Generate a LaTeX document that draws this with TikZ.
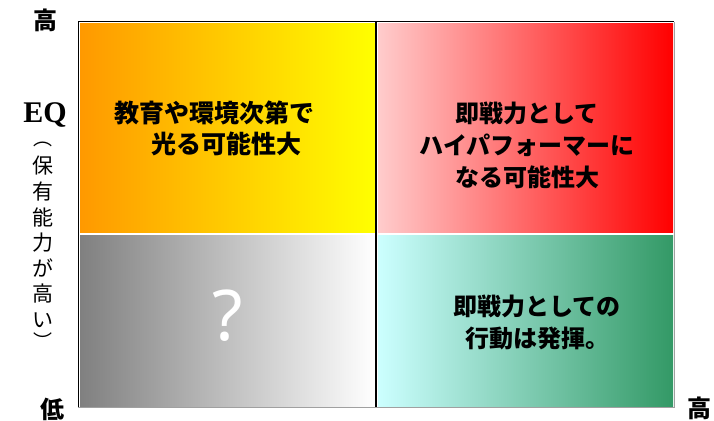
\documentclass[tikz,border=0pt]{standalone}
\usepackage{fontspec}
\newfontfamily\jp{Noto Sans CJK JP}
\newfontfamily\eqfont{Liberation Serif}
\newfontfamily\qfont{Noto Sans}
\definecolor{qorange}{HTML}{FF9900}
\definecolor{qyellow}{HTML}{FFFF00}
\definecolor{qgray}{HTML}{808080}
\definecolor{qpink}{HTML}{FFCCCC}
\definecolor{qred}{HTML}{FF0000}
\definecolor{qcyan}{HTML}{CCFFFF}
\definecolor{qgreen}{HTML}{339966}
\definecolor{framegray}{HTML}{A0A0A0}
\begin{document}
\begin{tikzpicture}[x=1pt,y=-1pt,
  quad/.style={draw=none,inner sep=0pt,outer sep=0pt,minimum width=295pt,anchor=north west},
  qtext/.style={align=center,inner sep=0pt,font=\jp\bfseries\fontsize{24}{32}\selectfont},
  axislabel/.style={inner sep=0pt,font=\jp\bfseries\fontsize{24}{28}\selectfont},
  paren/.style={inner sep=0pt,font=\jp\fontsize{19}{19}\selectfont},
]
\useasboundingbox (0,0) rectangle (714,420);
\fill[white] (0,0) rectangle (714,420);
% quadrants
\node[quad,minimum height=208pt,left color=qorange,right color=qyellow] (tl) at (80,24) {};
\node[quad,minimum height=172pt,left color=qgray,right color=white] (bl) at (80,235) {};
\node[quad,minimum height=208pt,left color=qpink,right color=qred] (tr) at (378,24) {};
\node[quad,minimum height=172pt,left color=qcyan,right color=qgreen] (br) at (378,235) {};
% frame
\coordinate (f1) at (78,22);
\coordinate (f2) at (674,22);
\coordinate (f3) at (674,407);
\coordinate (f4) at (78,407);
\coordinate (d1) at (376,22);
\coordinate (d2) at (376,407);
\draw[framegray,line width=1pt] (f2) -- (f3) -- (f4);
\draw[black,line width=1pt] (f4) -- (f1) -- (f2);
\draw[black,line width=2.2pt] (d1) -- (d2);
% quadrant texts
\node[qtext,font=\jp\bfseries\fontsize{25}{31}\selectfont] (t1) at (214,128) {教育や環境次第で\\　光る可能性大};
\node[qtext] (t2) at (527,145) {即戦力として\\ハイパフォーマーに\\なる可能性大};
\node[qtext] (t3) at (537,322) {即戦力としての\\行動は発揮。};
\node[inner sep=0pt,text=white,font=\qfont\bfseries\fontsize{70}{70}\selectfont] (t4) at (228,316) {?};
% axis labels
\node[axislabel] (hi) at (45,20) {高};
\node[axislabel] (lo) at (52,409) {低};
\node[axislabel] (hi2) at (699,408) {高};
\node[inner sep=0pt,font=\eqfont\bfseries\fontsize{30}{30}\selectfont] (eq) at (45,115) {EQ};
\node[inner sep=0pt,align=center,font=\jp\fontsize{21}{25.6}\selectfont] (vl) at (43,242) {保\\有\\能\\力\\が\\高\\い};
\node[paren] (p1) at (43,144) {︵};
\node[paren] (p2) at (43,341) {︶};
\end{tikzpicture}
\end{document}
